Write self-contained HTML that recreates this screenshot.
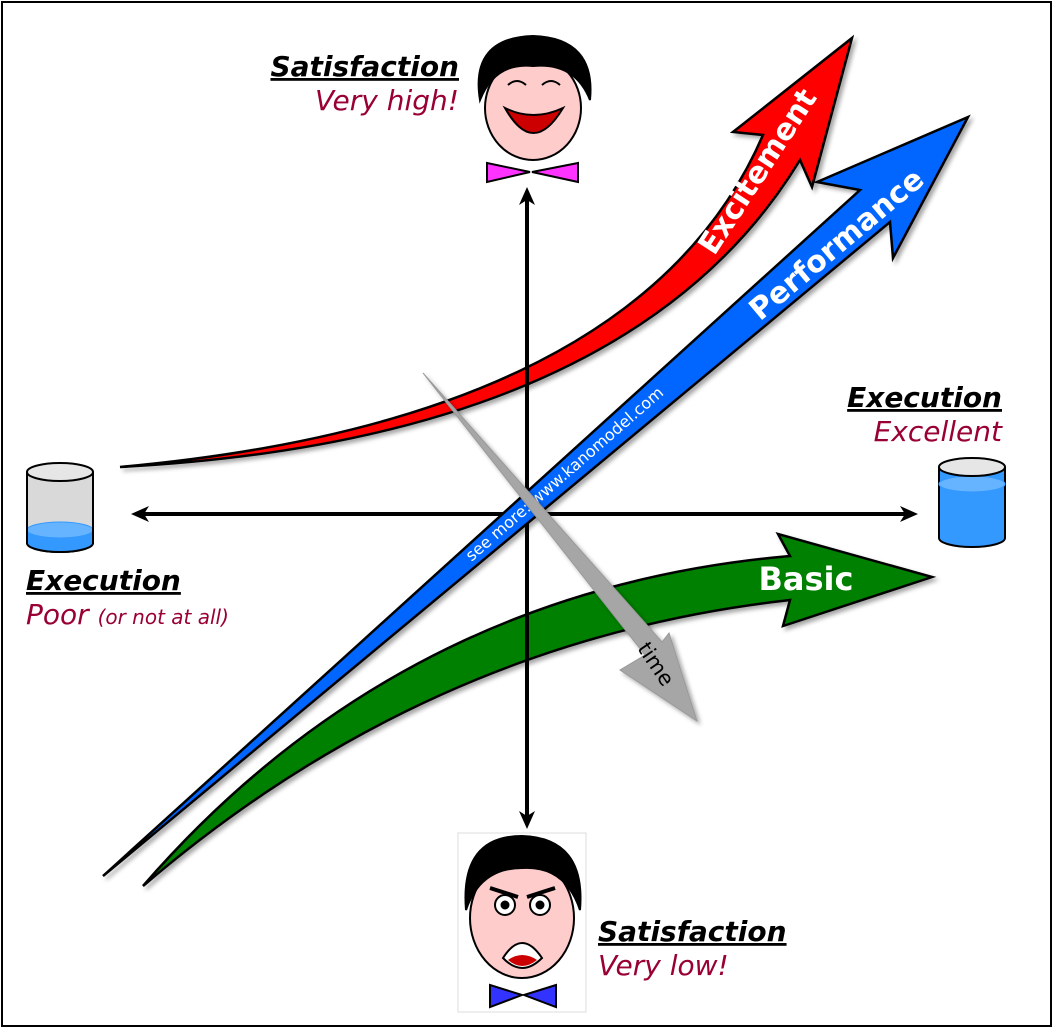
<!DOCTYPE html>
<html><head><meta charset="utf-8"><style>
html,body{margin:0;padding:0;background:#fff;}
svg{display:block;}
text{font-family:"DejaVu Sans","Liberation Sans",sans-serif;}
</style></head><body>
<svg width="1054" height="1029" viewBox="0 0 1054 1029">
<defs>
<filter id="sh" x="-10%" y="-10%" width="130%" height="130%"><feDropShadow dx="3" dy="3" stdDeviation="2" flood-color="#000" flood-opacity="0.35"/></filter>
</defs>
<rect x="2" y="2" width="1049" height="1024" fill="#fff" stroke="#000" stroke-width="2"/>

<!-- red excitement -->
<path d="M120,467 Q630,440 800,160 L812,187 L852,38 L733,132 L763,135 Q640,420 120,467 Z" fill="#ff0000" stroke="#000" stroke-width="2.5" filter="url(#sh)"/>
<text transform="translate(766,177) rotate(-57)" text-anchor="middle" font-size="30" font-weight="bold" fill="#fff">Excitement</text>

<!-- green basic -->
<path d="M143,886 Q430,640 790,600 L783,626 L932,577 L778,534 L790,556 Q400,590 143,886 Z" fill="#008000" stroke="#000" stroke-width="2.5" filter="url(#sh)"/>
<text x="806" y="590" text-anchor="middle" font-size="32" font-weight="bold" fill="#fff">Basic</text>

<!-- axes -->
<g fill="#000">
<line x1="140" y1="514" x2="910" y2="514" stroke="#000" stroke-width="4"/>
<line x1="527" y1="196" x2="527" y2="820" stroke="#000" stroke-width="4"/>
<path d="M131,514 L149,506 L144,514 L149,522 Z"/>
<path d="M918,514 L900,506 L905,514 L900,522 Z"/>
<path d="M527,187 L519,205 L527,200 L535,205 Z"/>
<path d="M527,829 L519,811 L527,816 L535,811 Z"/>
</g>

<!-- blue performance -->
<path d="M103,876 L890,222 L893,258 L968,117 L817,182 L860,190 Z" fill="#0066ff" stroke="#000" stroke-width="2.5" filter="url(#sh)"/>
<text transform="translate(843,252) rotate(-40)" text-anchor="middle" font-size="30" font-weight="bold" fill="#fff">Performance</text>
<text transform="translate(568,478) rotate(-41)" text-anchor="middle" font-size="16" fill="#fff">see more:     www.kanomodel.com</text>

<!-- gray time -->
<path d="M423,373 L645,655 L620,670 L697,721 L669,633 L662,642 Z" fill="#a6a6a6" stroke="#999" stroke-width="1" filter="url(#sh)"/>
<text transform="translate(650,668) rotate(56)" text-anchor="middle" font-size="21" fill="#000">time</text>

<!-- labels -->
<g font-style="italic" font-size="28">
<text x="459" y="76" text-anchor="end" font-weight="bold" text-decoration="underline">Satisfaction</text>
<text x="459" y="110" text-anchor="end" fill="#990033">Very high!</text>
<text x="1002" y="407" text-anchor="end" font-weight="bold" text-decoration="underline">Execution</text>
<text x="1002" y="441" text-anchor="end" fill="#990033">Excellent</text>
<text x="26" y="590" font-weight="bold" text-decoration="underline">Execution</text>
<text x="26" y="624" fill="#990033">Poor <tspan font-size="20">(or not at all)</tspan></text>
<text x="598" y="941" font-weight="bold" text-decoration="underline">Satisfaction</text>
<text x="598" y="975" fill="#990033">Very low!</text>
</g>

<!-- cylinders -->
<g stroke="#000" stroke-width="2">
<path d="M27,472 L27,543 A33,9 0 0 0 93,543 L93,472" fill="#d9d9d9"/>
<path d="M27,530 L27,543 A33,9 0 0 0 93,543 L93,530 A33,8 0 0 1 27,530 Z" fill="#3399ff" stroke="none"/>
<ellipse cx="60" cy="530" rx="33" ry="8" fill="#66b3ff" stroke="#3399ff" stroke-width="1"/>
<path d="M27,472 L27,543 A33,9 0 0 0 93,543 L93,472" fill="none"/>
<ellipse cx="60" cy="472" rx="33" ry="9" fill="#e6e6e6"/>
</g>
<g stroke="#000" stroke-width="2">
<path d="M939,467 L939,538 A33,9 0 0 0 1005,538 L1005,467" fill="#3399ff"/>
<ellipse cx="972" cy="484" rx="33" ry="8" fill="#66b3ff" stroke="#3399ff" stroke-width="1"/>
<ellipse cx="972" cy="467" rx="33" ry="9" fill="#e6e6e6"/>
</g>

<!-- happy face -->
<g stroke="#000" stroke-width="2">
<ellipse cx="533" cy="108" rx="48" ry="52" fill="#ffcccc"/>
<path d="M480,100 Q470,38 533,36 Q596,38 590,100 Q575,62 533,66 Q495,62 480,100 Z" fill="#000"/>
<path d="M505,108 Q533,158 563,108 Q533,122 505,108 Z" fill="#cc0000"/>
<path d="M508,85 Q517,77 526,85 M542,85 Q551,77 560,85" fill="none"/>
<path d="M487,163 L530,172 L487,182 Z M578,163 L532,172 L578,182 Z" fill="#ff33ff"/>
</g>

<!-- angry face -->
<g>
<rect x="458" y="833" width="128" height="179" fill="#fff" stroke="#ddd" stroke-width="1"/>
<g stroke="#000" stroke-width="2">
<ellipse cx="522" cy="918" rx="52" ry="60" fill="#ffcccc"/>
<path d="M466,910 Q460,836 522,836 Q586,838 580,910 Q565,865 522,868 Q480,868 466,910 Z" fill="#000"/>
<circle cx="505" cy="905" r="10" fill="#fff"/><circle cx="540" cy="905" r="10" fill="#fff"/>
<circle cx="505" cy="905" r="3.5" fill="#000"/><circle cx="540" cy="905" r="3.5" fill="#000"/>
<path d="M490,888 L518,897 M555,888 L527,897" fill="none" stroke-width="4"/>
<path d="M503,958 Q522,928 542,958 Q522,978 503,958 Z" fill="#fff"/>
<path d="M508,960 Q522,950 537,960 Q522,972 508,960 Z" fill="#cc0000" stroke="none"/>
<path d="M490,985 L522,995 L490,1007 Z M556,985 L524,995 L556,1007 Z" fill="#3333ff"/>
</g>
</g>
</svg>
</body></html>
